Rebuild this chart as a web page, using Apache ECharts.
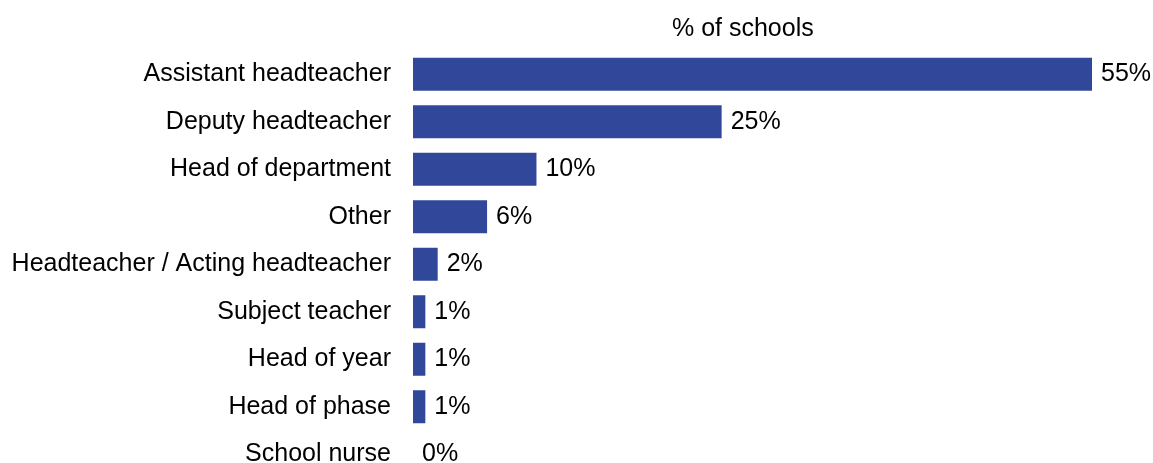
<!DOCTYPE html>
<html>
<head>
<meta charset="utf-8">
<script src="https://cdn.jsdelivr.net/npm/echarts@6/dist/echarts.min.js"></script>
<style>
  html, body { margin: 0; padding: 0; background: #fff; }
  #chart { width: 1153px; height: 463px; }
</style>
</head>
<body>
<div id="chart"></div>
<script>
// Roles and share of schools (%)
const roles = [
  'Assistant headteacher',
  'Deputy headteacher',
  'Head of department',
  'Other',
  'Headteacher / Acting headteacher',
  'Subject teacher',
  'Head of year',
  'Head of phase',
  'School nurse'
];
const shares = [55, 25, 10, 6, 2, 1, 1, 1, 0];

const FONT = "'Liberation Sans', Arial, sans-serif";
const chart = echarts.init(document.getElementById('chart'), null, { renderer: 'canvas' });

chart.setOption({
  animation: false,
  backgroundColor: '#ffffff',
  title: {
    text: '% of schools',
    left: 667,
    top: 12,
    textStyle: { fontFamily: FONT, fontSize: 25, fontWeight: 'normal', color: '#000' }
  },
  // the last row runs slightly past the bottom edge
  grid: { left: 413, width: 679, top: 50.5, height: 427.5, outerBoundsMode: 'none', containLabel: false },
  xAxis: {
    type: 'value',
    min: 0,
    max: 55,
    show: false
  },
  yAxis: {
    type: 'category',
    data: roles,
    inverse: true,
    axisLine: { show: false },
    axisTick: { show: false },
    axisLabel: { fontFamily: FONT, fontSize: 25, color: '#000', margin: 22, padding: [3, 0, 0, 0] }
  },
  series: [{
    type: 'bar',
    data: shares,
    barWidth: 33,
    itemStyle: { color: '#30479a' },
    label: {
      show: true,
      position: 'right',
      distance: 9,
      padding: [3, 0, 0, 0],
      formatter: p => p.value + '%',
      fontFamily: FONT,
      fontSize: 25,
      color: '#000'
    }
  }]
});
</script>
</body>
</html>
